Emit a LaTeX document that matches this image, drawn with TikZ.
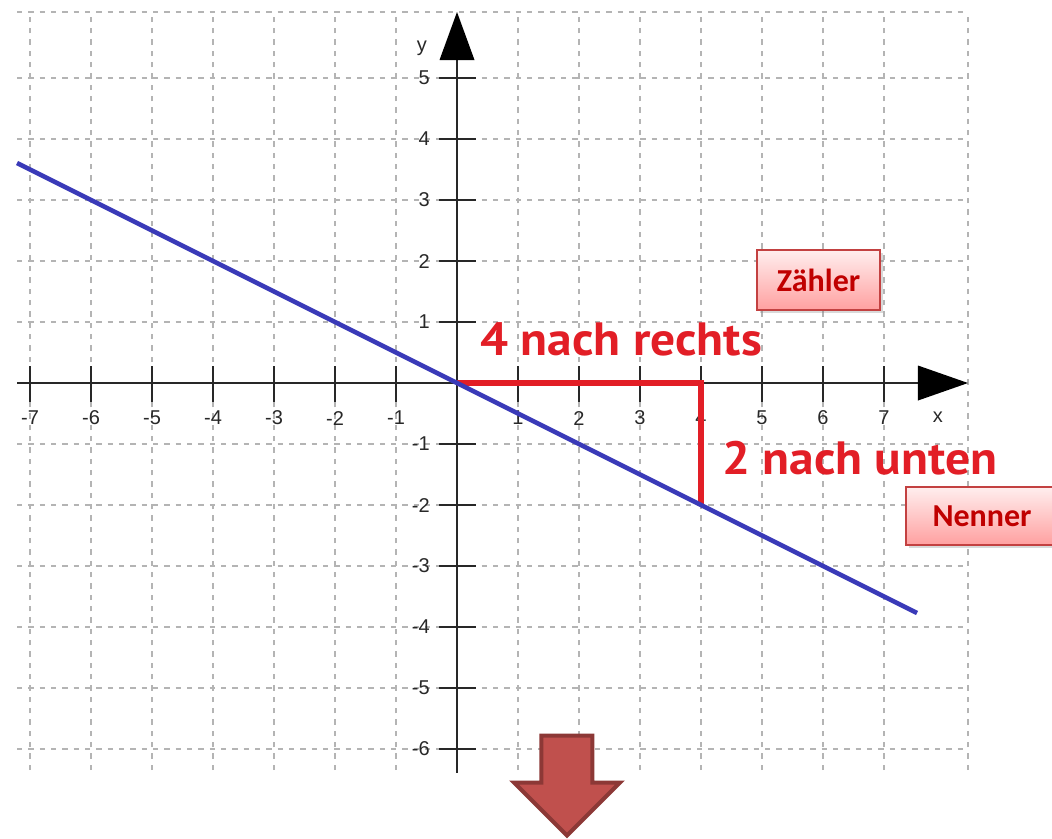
\documentclass[tikz,border=0pt]{standalone}
\usepackage{fontspec}
\setmainfont{Liberation Sans}
\newfontfamily\ptsans[FakeStretch=1.06]{PT Sans}
\newfontfamily\carlito{Carlito}
\usetikzlibrary{shadows}
\definecolor{gridgray}{RGB}{180,180,180}
\definecolor{axisgray}{RGB}{40,40,40}
\definecolor{lineblue}{RGB}{58,58,184}
\definecolor{stepred}{RGB}{226,30,38}
\definecolor{labelred}{RGB}{192,0,0}
\definecolor{boxborder}{RGB}{195,65,65}
\definecolor{boxtop}{RGB}{255,238,238}
\definecolor{boxbottom}{RGB}{255,160,160}
\definecolor{arrowfill}{RGB}{192,80,77}
\definecolor{arrowdraw}{RGB}{140,56,54}
\begin{document}
\begin{tikzpicture}[x=45.75pt,y=45.75pt,
  gridline/.style={gridgray, line width=0.9pt, dash pattern=on 4pt off 4.5pt},
  axisline/.style={axisgray, line width=1.4pt},
  tickline/.style={axisgray, line width=1.4pt},
  ticklabel/.style={text=axisgray, font=\fontsize{15}{16}\selectfont, inner sep=0pt},
  stepline/.style={stepred, line width=4pt},
  graphline/.style={lineblue, line width=3.5pt},
  steplabel/.style={text=stepred, inner sep=0pt, font=\ptsans\bfseries\fontsize{35}{37}\selectfont},
  fracbox/.style={draw=boxborder, line width=1pt, top color=boxtop, bottom color=boxbottom,
    text=labelred, inner sep=0pt, font=\carlito\bfseries\fontsize{24}{26}\selectfont,
    drop shadow={shadow xshift=2pt, shadow yshift=-2.5pt, opacity=0.3}},
  bigarrow/.style={draw=arrowdraw, fill=arrowfill, line width=3pt, line join=miter}
]
\useasboundingbox (-7.492,-7.459) rectangle (9.754,6.279);
\clip (-7.492,-7.459) rectangle (9.754,6.279);
% grid
\foreach \y in {-6,...,5} \draw[gridline] (-7.213,\y) -- (8.377,\y);
\draw[gridline] (-7.213,6.082) -- (8.377,6.082);
\foreach \x in {-7,...,7} \draw[gridline] (\x,-6.344) -- (\x,6.082);
\draw[gridline] (8.377,-6.344) -- (8.377,6.082);
% axes
\coordinate (xstart) at (-7.213,0);
\coordinate (xend) at (7.6,0);
\coordinate (ystart) at (0,-6.39);
\coordinate (yend) at (0,5.35);
\draw[axisline] (xstart) -- (xend);
\draw[axisline] (ystart) -- (yend);
\fill[black] (7.557,0.287) -- (8.377,0) -- (7.557,-0.287) -- cycle;
\fill[black] (-0.287,5.295) -- (0,6.082) -- (0.287,5.295) -- cycle;
% ticks and labels
\foreach \x in {-7,-6,-5,-4,-3,-2,-1,1,2,3,4,5,6,7} {
  \draw[tickline] (\x,0.279) -- (\x,-0.311);
  \node[ticklabel] (xlab\x) at (\x,-0.574) {\x};
}
\foreach \y in {-6,-5,-4,-3,-2,-1,1,2,3,4,5} {
  \draw[tickline] (-0.295,\y) -- (0.311,\y);
  \node[ticklabel, anchor=east] (ylab\y) at (-0.443,\y) {\y};
}
\node[ticklabel] (yname) at (-0.574,5.49) {y};
\node[ticklabel] (xname) at (7.885,-0.557) {x};
% slope triangle
\coordinate (O) at (0,0);
\coordinate (R) at (4,0);
\coordinate (D) at (4,-2);
\draw[stepline] (O) -- (R) -- (D);
% graph
\coordinate (gstart) at (-7.213,3.6065);
\coordinate (gend) at (7.541,-3.7705);
\draw[graphline] (gstart) -- (gend);
% labels
\node[steplabel, anchor=base west] (rechts) at (0.377,0.459) {4 nach rechts};
\node[steplabel, anchor=base west] (unten) at (4.34,-1.492) {2 nach unten};
\node[fracbox, minimum width=92.2pt, minimum height=45pt] (zaehler) at (5.926,1.689) {Zähler};
\node[fracbox, minimum width=114pt, minimum height=43.5pt] (nenner) at (8.607,-2.18) {Nenner};
% big arrow
\draw[bigarrow] (1.385,-5.779) -- (2.221,-5.779) -- (2.221,-6.549) -- (2.672,-6.549)
  -- (1.803,-7.418) -- (0.934,-6.549) -- (1.385,-6.549) -- cycle;
\end{tikzpicture}
\end{document}
